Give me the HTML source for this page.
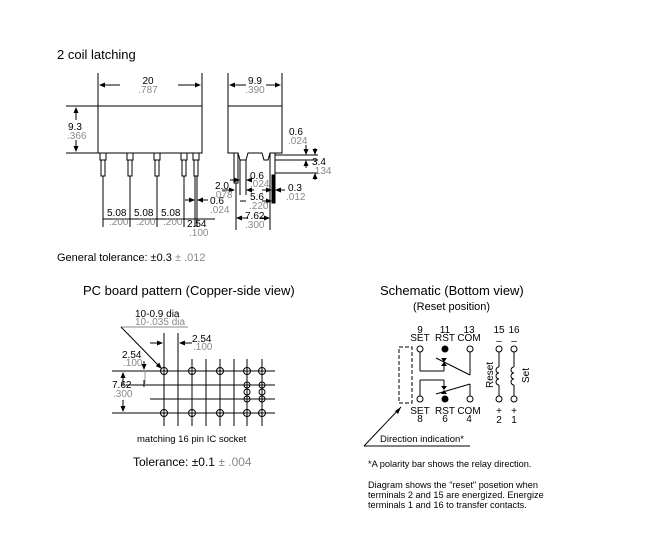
<!DOCTYPE html>
<html><head><style>
html,body{margin:0;padding:0;background:#fff;}
svg{display:block;font-family:"Liberation Sans",Arial,sans-serif;}
.g{fill:#8a8a8a}
.l{stroke:#000;stroke-width:1;fill:none}
</style></head><body>
<svg width="669" height="550" viewBox="0 0 669 550" xmlns="http://www.w3.org/2000/svg">
<defs>
<marker id="a" markerWidth="6" markerHeight="6" refX="5" refY="3" orient="auto"><path d="M0,0.5 L6,3 L0,5.5z" fill="#000"/></marker>
</defs>
<rect width="669" height="550" fill="#fff"/>
<text x="57" y="59" font-size="13">2 coil latching</text>

<!-- front view -->
<g class="l">
<rect x="98" y="106" width="104" height="47"/>
<line x1="98" y1="73" x2="98" y2="106"/><line x1="202" y1="73" x2="202" y2="106"/>
<line x1="120" y1="85" x2="100" y2="85" marker-end="url(#a)"/><line x1="178" y1="85" x2="200" y2="85" marker-end="url(#a)"/>
<line x1="66" y1="106" x2="98" y2="106"/><line x1="66" y1="153" x2="98" y2="153"/>
<line x1="76" y1="120" x2="76" y2="108" marker-end="url(#a)"/><line x1="76" y1="140" x2="76" y2="151" marker-end="url(#a)"/>
</g>
<g class="l">
<rect x="100" y="153" width="6" height="7"/><rect x="101" y="160" width="4" height="16"/><line x1="103" y1="176" x2="103" y2="227"/>
<rect x="127" y="153" width="6" height="7"/><rect x="128" y="160" width="4" height="16"/><line x1="130" y1="176" x2="130" y2="227"/>
<rect x="154" y="153" width="6" height="7"/><rect x="155" y="160" width="4" height="16"/><line x1="157" y1="176" x2="157" y2="227"/>
<rect x="181" y="153" width="6" height="7"/><rect x="182" y="160" width="4" height="16"/><line x1="184" y1="176" x2="184" y2="227"/>
<rect x="193" y="153" width="6" height="7"/><rect x="194" y="160" width="4" height="16"/><line x1="195" y1="176" x2="195" y2="227"/><line x1="197" y1="176" x2="197" y2="227"/>
<line x1="103" y1="219" x2="215" y2="219"/>
<line x1="185" y1="200" x2="194" y2="200" marker-end="url(#a)"/><line x1="208" y1="200" x2="198" y2="200" marker-end="url(#a)"/>
</g>
<text x="148" y="84" font-size="10" text-anchor="middle">20</text><text x="148" y="93" font-size="10" class="g" text-anchor="middle">.787</text>
<text x="68" y="130" font-size="10">9.3</text><text x="67" y="139" font-size="10" class="g">.366</text>
<g font-size="10"><text x="107" y="216">5.08</text><text x="134" y="216">5.08</text><text x="161" y="216">5.08</text>
<text x="187" y="227">2.54</text><text x="210" y="204">0.6</text></g>
<g font-size="10" class="g"><text x="109" y="225">.200</text><text x="136" y="225">.200</text><text x="163" y="225">.200</text>
<text x="189" y="236">.100</text><text x="210" y="213">.024</text></g>

<!-- side view -->
<g class="l">
<path d="M228,106 L282,106 L282,153 L270,153 L268,160 L264,160 L262,153 L248,153 L246,160 L240,160 L238,153 L228,153 Z"/>
<line x1="228" y1="73" x2="228" y2="106"/><line x1="282" y1="73" x2="282" y2="106"/>
<line x1="246" y1="85" x2="230" y2="85" marker-end="url(#a)"/><line x1="266" y1="85" x2="280" y2="85" marker-end="url(#a)"/>
<rect x="234" y="153" width="4" height="30"/><line x1="236" y1="183" x2="236" y2="230"/>
<line x1="240" y1="160" x2="240" y2="195"/><line x1="246" y1="160" x2="246" y2="195"/>
<line x1="270" y1="153" x2="270" y2="230"/><line x1="275" y1="153" x2="275" y2="175"/>
<rect x="272" y="175" width="3" height="28" fill="#000"/>
<line x1="275" y1="155" x2="318" y2="155"/><line x1="275" y1="160" x2="318" y2="160"/><line x1="275" y1="173" x2="318" y2="173"/>
<line x1="306" y1="145" x2="306" y2="154" marker-end="url(#a)"/><line x1="306" y1="168" x2="306" y2="161" marker-end="url(#a)"/>
<line x1="315" y1="148" x2="315" y2="154" marker-end="url(#a)"/><line x1="315" y1="180" x2="315" y2="174" marker-end="url(#a)"/>
<line x1="222" y1="190" x2="234" y2="190" marker-end="url(#a)"/><line x1="254" y1="190" x2="247" y2="190" marker-end="url(#a)"/>
<line x1="230" y1="180" x2="239" y2="180" marker-end="url(#a)"/><line x1="252" y1="180" x2="247" y2="180" marker-end="url(#a)"/>
<line x1="240" y1="201" x2="246" y2="201" /><line x1="262" y1="201" x2="271" y2="201" marker-end="url(#a)"/>
<line x1="262" y1="190" x2="271" y2="190" marker-end="url(#a)"/><line x1="285" y1="190" x2="276" y2="190" marker-end="url(#a)"/>
<line x1="248" y1="218" x2="237" y2="218" marker-end="url(#a)"/><line x1="260" y1="218" x2="269" y2="218" marker-end="url(#a)"/>
</g>
<text x="255" y="84" font-size="10" text-anchor="middle">9.9</text><text x="255" y="93" font-size="10" class="g" text-anchor="middle">.390</text>
<g font-size="10"><text x="289" y="135">0.6</text><text x="312" y="165">3.4</text><text x="215" y="189">2.0</text><text x="250" y="179">0.6</text>
<text x="250" y="200">5.6</text><text x="288" y="191">0.3</text><text x="245" y="219">7.62</text></g>
<g font-size="10" class="g"><text x="288" y="144">.024</text><text x="312" y="174">.134</text><text x="213" y="198">.078</text><text x="250" y="187">.024</text>
<text x="249" y="209">.220</text><text x="286" y="200">.012</text><text x="245" y="228">.300</text></g>

<text x="57" y="261" font-size="11">General tolerance: ±0.3 <tspan class="g">± .012</tspan></text>

<!-- PC board -->
<text x="83" y="295" font-size="13">PC board pattern (Copper-side view)</text>
<g class="l">
<line x1="112" y1="371" x2="275" y2="371"/><line x1="126" y1="385" x2="275" y2="385"/><line x1="150" y1="399" x2="275" y2="399"/><line x1="112" y1="413" x2="275" y2="413"/>
<line x1="164" y1="333" x2="164" y2="426"/><line x1="178" y1="333" x2="178" y2="426"/><line x1="192" y1="359" x2="192" y2="426"/><line x1="206" y1="359" x2="206" y2="426"/>
<line x1="220" y1="359" x2="220" y2="426"/><line x1="234" y1="359" x2="234" y2="426"/><line x1="247" y1="359" x2="247" y2="426"/><line x1="262" y1="359" x2="262" y2="426"/>
<line x1="150" y1="343" x2="162" y2="343" marker-end="url(#a)"/><line x1="192" y1="343" x2="180" y2="343" marker-end="url(#a)"/>
<line x1="121" y1="327" x2="188" y2="327" stroke="#888"/><line x1="121" y1="327" x2="161" y2="368" marker-end="url(#a)"/>
<line x1="144" y1="361" x2="144" y2="369" marker-end="url(#a)"/><line x1="144" y1="380" x2="144" y2="387" />
<line x1="145" y1="370" x2="145" y2="386" stroke="#999"/>
<line x1="123" y1="386" x2="123" y2="373" marker-end="url(#a)"/><line x1="123" y1="400" x2="123" y2="411" marker-end="url(#a)"/>
</g>
<g class="l" fill="#fff">
<circle cx="164" cy="371" r="3.5"/><circle cx="192" cy="371" r="3.5"/><circle cx="220" cy="371" r="3.5"/><circle cx="247" cy="371" r="3.5"/><circle cx="262" cy="371" r="3.5"/>
<circle cx="164" cy="413" r="3.5"/><circle cx="192" cy="413" r="3.5"/><circle cx="220" cy="413" r="3.5"/><circle cx="247" cy="413" r="3.5"/><circle cx="262" cy="413" r="3.5"/>
<circle cx="247" cy="385" r="3"/><circle cx="262" cy="385" r="3"/><circle cx="247" cy="392" r="3"/><circle cx="262" cy="392" r="3"/><circle cx="247" cy="399" r="3"/><circle cx="262" cy="399" r="3"/>
</g>
<text x="135" y="317" font-size="10">10-0.9 dia</text><text x="135" y="325" font-size="10" class="g">10-.035 dia</text>
<text x="192" y="342" font-size="10">2.54</text><text x="193" y="350" font-size="10" class="g">.100</text>
<text x="122" y="358" font-size="10">2.54</text><text x="123" y="366" font-size="10" class="g">.100</text>
<text x="112" y="388" font-size="10">7.62</text><text x="113" y="397" font-size="10" class="g">.300</text>
<text x="137" y="442" font-size="9.5">matching 16 pin IC socket</text>
<text x="133" y="466" font-size="12">Tolerance: ±0.1 <tspan class="g">± .004</tspan></text>

<!-- Schematic -->
<text x="380" y="295" font-size="13">Schematic (Bottom view)</text>
<text x="413" y="310" font-size="11">(Reset position)</text>
<g font-size="10" text-anchor="middle">
<text x="420" y="333">9</text><text x="420" y="341">SET</text><text x="445" y="333">11</text><text x="445" y="341">RST</text><text x="469" y="333">13</text><text x="469" y="341">COM</text>
<text x="499" y="333">15</text><text x="514" y="333">16</text><text x="499" y="344">–</text><text x="514" y="344">–</text>
<text x="420" y="414">SET</text><text x="420" y="422">8</text><text x="445" y="414">RST</text><text x="445" y="422">6</text><text x="469" y="414">COM</text><text x="469" y="422">4</text>
<text x="499" y="414">+</text><text x="514" y="414">+</text><text x="499" y="423">2</text><text x="514" y="423">1</text>
</g>
<rect x="399" y="347" width="13" height="56" fill="none" stroke="#000" stroke-dasharray="4,2"/>
<g class="l">
<line x1="420" y1="352" x2="420" y2="371"/><line x1="420" y1="371" x2="444" y2="371"/><line x1="444" y1="371" x2="444" y2="362"/>
<line x1="436" y1="358" x2="470" y2="375"/><line x1="470" y1="352" x2="470" y2="375"/>
<line x1="420" y1="396" x2="420" y2="380"/><line x1="420" y1="380" x2="444" y2="380"/><line x1="444" y1="380" x2="444" y2="389"/>
<line x1="436" y1="394" x2="470" y2="384"/><line x1="470" y1="384" x2="470" y2="396"/>
<line x1="499" y1="352" x2="499" y2="367"/><line x1="499" y1="385" x2="499" y2="396"/>
<line x1="514" y1="352" x2="514" y2="367"/><line x1="514" y1="385" x2="514" y2="396"/>
<path d="M499,367 a3,3 0 1 0 0,6 a3,3 0 1 0 0,6 a3,3 0 1 0 0,6"/>
<path d="M514,367 a3,3 0 1 0 0,6 a3,3 0 1 0 0,6 a3,3 0 1 0 0,6"/>
</g>
<path d="M441,358 L447,358 L444,362z M441,366 L447,366 L444,362z M441,386 L447,386 L444,390z M441,394 L447,394 L444,390z" fill="#000"/>
<g stroke="#000" fill="#fff"><circle cx="420" cy="349" r="3"/><circle cx="470" cy="349" r="3"/><circle cx="499" cy="349" r="3"/><circle cx="514" cy="349" r="3"/>
<circle cx="420" cy="399" r="3"/><circle cx="470" cy="399" r="3"/><circle cx="499" cy="399" r="3"/><circle cx="514" cy="399" r="3"/></g>
<circle cx="445" cy="349" r="3.5" fill="#000"/><circle cx="445" cy="399" r="3.5" fill="#000"/>
<text transform="translate(493,388) rotate(-90)" font-size="10">Reset</text>
<text transform="translate(529,383) rotate(-90)" font-size="10">Set</text>
<g class="l"><line x1="401" y1="407" x2="364" y2="446"/><line x1="364" y1="446" x2="470" y2="446"/></g>
<path d="M401,407 L398,414 L395,411z" fill="#000"/>
<text x="380" y="442" font-size="9.5">Direction indication*</text>
<g font-size="9.2"><text x="368" y="467">*A polarity bar shows the relay direction.</text>
<text x="368" y="488">Diagram shows the "reset" posetion when</text>
<text x="368" y="498">terminals 2 and 15 are energized. Energize</text>
<text x="368" y="508">terminals 1 and 16 to transfer contacts.</text></g>
</svg>
</body></html>
